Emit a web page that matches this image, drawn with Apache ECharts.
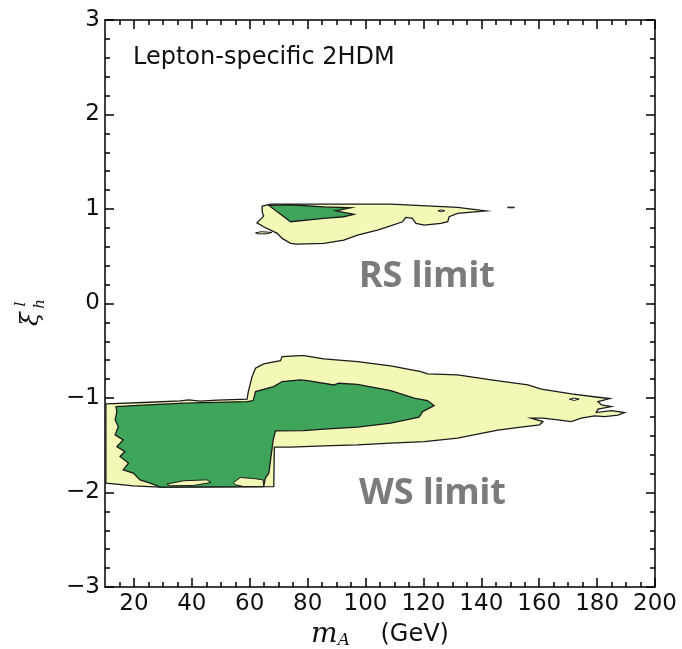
<!DOCTYPE html>
<html>
<head>
<meta charset="utf-8">
<script src="https://cdn.jsdelivr.net/npm/echarts@6/dist/echarts.min.js"></script>
<style>
  html, body { margin: 0; padding: 0; background: #fff; }
  #chart { width: 682px; height: 649px; }
</style>
</head>
<body>
<div id="chart"></div>
<script>
// Axis ranges and tick positions
const X_RANGE = [10, 200];
const Y_RANGE = [-3, 3];
const X_MAJOR_TICKS = [20, 40, 60, 80, 100, 120, 140, 160, 180, 200];
const X_MINOR_TICKS = [];
for (let v = 15; v < 200; v += 5) if (v % 20 !== 0) X_MINOR_TICKS.push(v);

// Allowed regions in the (m_A, xi_h^l) plane, as contour outlines
// Wrong-sign branch, outer (light) contour
const wsOuter = [
  [10.3,-1.062],[25.6,-1.045],[36.0,-1.031],[38.9,-1.020],[42.9,-1.034],[48.7,-1.023],
  [59.1,-1.013],[59.4,-0.949],[60.8,-0.774],[62.0,-0.685],[64.8,-0.640],[70.6,-0.605],
  [71.2,-0.562],[77.5,-0.552],[78.7,-0.552],[85.6,-0.587],[97.2,-0.615],[108.7,-0.661],
  [119.1,-0.721],[121.4,-0.745],[131.8,-0.756],[143.4,-0.808],[156.1,-0.861],[160.7,-0.907],
  [171.1,-0.957],[180.3,-0.992],[184.4,-1.006],[180.3,-1.038],[181.5,-1.073],[184.9,-1.091],
  [180.3,-1.118],[179.7,-1.154],[184.9,-1.133],[189.5,-1.154],[187.2,-1.182],[182.6,-1.197],
  [179.1,-1.189],[174.5,-1.213],[171.1,-1.249],[166.5,-1.231],[161.3,-1.213],[157.2,-1.213],
  [161.3,-1.249],[160.1,-1.284],[153.7,-1.309],[145.7,-1.340],[140.0,-1.375],[131.8,-1.425],
  [120.3,-1.461],[108.7,-1.478],[97.2,-1.496],[85.6,-1.506],[74.1,-1.520],[68.5,-1.520],
  [68.3,-1.937],[29.1,-1.943],[19.8,-1.929],[12.9,-1.908],[10.3,-1.900]
];
// Wrong-sign branch, inner (dark) contour
const wsInner = [
  [13.8,-1.091],[19.8,-1.080],[37.1,-1.055],[59.1,-1.038],[61.2,-1.027],[62.0,-0.932],
  [68.3,-0.879],[71.2,-0.826],[77.5,-0.809],[79.9,-0.816],[89.1,-0.862],[90.8,-0.844],
  [97.2,-0.855],[108.7,-0.921],[116.8,-1.002],[121.4,-1.027],[123.7,-1.080],[119.7,-1.144],
  [118.5,-1.203],[108.7,-1.267],[97.2,-1.309],[85.6,-1.330],[78.7,-1.345],[68.9,-1.348],
  [68.1,-1.443],[67.2,-1.654],[66.6,-1.795],[65.4,-1.848],[64.8,-1.937],[29.1,-1.943],
  [25.6,-1.901],[22.1,-1.866],[19.8,-1.795],[16.3,-1.760],[18.1,-1.689],[15.2,-1.619],
  [16.9,-1.567],[14.1,-1.514],[16.3,-1.443],[13.5,-1.390],[14.6,-1.302],[13.5,-1.232],
  [14.1,-1.144]
];
// Light pockets at the bottom of the inner contour
const wsPocketA = [[31.4,-1.911],[37.1,-1.876],[45.2,-1.866],[46.6,-1.894],[40.6,-1.926],[32.5,-1.929]];
const wsPocketB = [[54.4,-1.894],[56.8,-1.841],[61.4,-1.852],[64.6,-1.866],[64.8,-1.937],[57.9,-1.937],[55.0,-1.918]];
// Excluded hole inside the outer contour
const wsHole = [[170.4,-1.013],[172.1,-1.001],[173.8,-1.011],[172.1,-1.026]];

// Right-sign branch, outer contour
const rsOuter = [
  [64.3,1.031],[67.2,1.052],[108.7,1.052],[131.8,1.017],[141.6,0.981],[131.8,0.953],
  [128.9,0.918],[128.4,0.865],[126.0,0.848],[120.3,0.830],[117.4,0.848],[116.2,0.900],
  [113.9,0.911],[112.8,0.865],[107.6,0.812],[104.1,0.777],[97.2,0.724],[92.5,0.671],
  [85.6,0.636],[76.4,0.629],[74.1,0.636],[71.2,0.689],[69.5,0.742],[67.2,0.777],
  [64.8,0.812],[62.5,0.854],[63.7,0.890],[64.8,0.925],[64.3,0.970]
];
// Right-sign branch, inner contour
const rsInner = [
  [66.6,1.038],[74.1,1.045],[85.6,1.023],[94.9,1.013],[89.7,0.981],[96.0,0.943],
  [92.5,0.918],[85.6,0.900],[74.1,0.865]
];
const rsHole = [[125.0,0.981],[126.2,0.990],[127.4,0.981],[126.2,0.972]];
const rsIsletA = [[62.0,0.747],[64.0,0.760],[67.7,0.752],[66.0,0.738],[63.0,0.737]];
const rsIsletB = [[149.1,1.020],[151.4,1.020],[151.4,1.013],[149.1,1.013]];

const LIGHT = '#f4f8b6';
const DARK = '#3ea55b';
const EDGE = '#1a1a1a';

function region(points, fill, lineWidth) {
  return {
    type: 'custom',
    coordinateSystem: 'cartesian2d',
    xAxisIndex: 0,
    yAxisIndex: 0,
    clip: true,
    silent: true,
    data: points,
    renderItem: function (params, api) {
      if (params.dataIndex !== 0) return null;
      return {
        type: 'polygon',
        shape: { points: points.map(function (p) { return api.coord(p); }) },
        style: { fill: fill, stroke: EDGE, lineWidth: lineWidth == null ? 1.3 : lineWidth }
      };
    }
  };
}

const tickLine = { color: '#000', width: 1.5 };
const labelStyle = { fontFamily: 'DejaVu Sans', fontSize: 23, color: '#111' };
function yFmt(v) { return v < 0 ? '\u2212' + Math.abs(v) : String(v); }

const chart = echarts.init(document.getElementById('chart'), null, { renderer: 'canvas' });
chart.setOption({
  animation: false,
  backgroundColor: '#fff',
  grid: [
    { left: 105, right: 27, top: 20, bottom: 62, outerBoundsMode: 'none', containLabel: false },
    { left: 105, right: 27, top: 20, bottom: 62, outerBoundsMode: 'none', containLabel: false }
  ],
  xAxis: [
    {
      gridIndex: 0, type: 'value', position: 'bottom', min: X_RANGE[0], max: X_RANGE[1],
      axisLine: { show: true, onZero: false, lineStyle: tickLine },
      axisTick: { show: true, inside: true, length: 9, lineStyle: tickLine, customValues: X_MAJOR_TICKS },
      axisLabel: Object.assign({ margin: 6, customValues: X_MAJOR_TICKS }, labelStyle),
      splitLine: { show: false },
      name: '{m|m}{a|A}{t|    (GeV)}',
      nameLocation: 'middle',
      nameGap: 32,
      nameTextStyle: {
        rich: {
          m: { fontFamily: 'DejaVu Serif', fontStyle: 'italic', fontSize: 28, color: '#111', lineHeight: 28 },
          a: { fontFamily: 'DejaVu Serif', fontStyle: 'italic', fontSize: 17, color: '#111', lineHeight: 15, verticalAlign: 'bottom' },
          t: { fontFamily: 'DejaVu Sans', fontSize: 24, color: '#111', lineHeight: 28 }
        }
      }
    },
    {
      gridIndex: 0, type: 'value', position: 'top', min: X_RANGE[0], max: X_RANGE[1],
      axisLine: { show: true, onZero: false, lineStyle: tickLine },
      axisTick: { show: true, inside: true, length: 9, lineStyle: tickLine, customValues: X_MAJOR_TICKS },
      axisLabel: { show: false },
      splitLine: { show: false }
    },
    {
      gridIndex: 1, type: 'value', position: 'bottom', min: X_RANGE[0], max: X_RANGE[1],
      axisLine: { show: false, onZero: false },
      axisTick: { show: true, inside: true, length: 5, lineStyle: tickLine, customValues: X_MINOR_TICKS },
      axisLabel: { show: false },
      splitLine: { show: false }
    },
    {
      gridIndex: 1, type: 'value', position: 'top', min: X_RANGE[0], max: X_RANGE[1],
      axisLine: { show: false, onZero: false },
      axisTick: { show: true, inside: true, length: 5, lineStyle: tickLine, customValues: X_MINOR_TICKS },
      axisLabel: { show: false },
      splitLine: { show: false }
    }
  ],
  yAxis: [
    {
      gridIndex: 0, type: 'value', position: 'left', min: Y_RANGE[0], max: Y_RANGE[1], interval: 1,
      axisLine: { show: true, onZero: false, lineStyle: tickLine },
      axisTick: { show: true, inside: true, length: 9, lineStyle: tickLine },
      minorTick: { show: true, splitNumber: 5, length: 5, lineStyle: tickLine },
      axisLabel: Object.assign({ margin: 5, formatter: yFmt }, labelStyle),
      splitLine: { show: false },
      minorSplitLine: { show: false }
    },
    {
      gridIndex: 0, type: 'value', position: 'right', min: Y_RANGE[0], max: Y_RANGE[1], interval: 1,
      axisLine: { show: true, onZero: false, lineStyle: tickLine },
      axisTick: { show: true, inside: true, length: 9, lineStyle: tickLine },
      minorTick: { show: true, splitNumber: 5, length: 5, lineStyle: tickLine },
      axisLabel: { show: false },
      splitLine: { show: false },
      minorSplitLine: { show: false }
    },
    {
      gridIndex: 1, type: 'value', min: Y_RANGE[0], max: Y_RANGE[1], show: false,
      axisLine: { onZero: false }
    }
  ],
  series: [
    region(wsOuter, LIGHT),
    region(wsInner, DARK),
    region(wsPocketA, LIGHT, 1),
    region(wsPocketB, LIGHT, 1),
    region(wsHole, '#fff', 1),
    region(rsOuter, LIGHT),
    region(rsInner, DARK),
    region(rsHole, '#fff', 1),
    region(rsIsletA, LIGHT, 1),
    region(rsIsletB, LIGHT, 1)
  ],
  graphic: [
    {
      type: 'text', left: 133, top: 46,
      style: { text: 'Lepton-specific 2HDM', font: '24px "DejaVu Sans"', fill: '#111' }
    },
    {
      type: 'text', left: 359, top: 259,
      style: { text: 'RS limit', font: 'bold 36px "Noto Sans"', fill: '#7b7b7b' }
    },
    {
      type: 'text', left: 359, top: 476,
      style: { text: 'WS limit', font: 'bold 36px "Noto Sans"', fill: '#7b7b7b' }
    },
    {
      // y-axis title: xi with subscript h and superscript l, rotated
      type: 'group', x: 31, y: 319, rotation: Math.PI / 2,
      children: [
        { type: 'text', x: 0, y: 0, style: { text: '\u03be', font: 'italic 25px "DejaVu Serif"', fill: '#111', align: 'center', verticalAlign: 'middle' } },
        { type: 'text', x: 15, y: -10, style: { text: 'l', font: 'italic 15px "DejaVu Serif"', fill: '#111', align: 'center', verticalAlign: 'middle' } },
        { type: 'text', x: 15, y: 9, style: { text: 'h', font: 'italic 15px "DejaVu Serif"', fill: '#111', align: 'center', verticalAlign: 'middle' } }
      ]
    }
  ]
});
</script>
</body>
</html>
